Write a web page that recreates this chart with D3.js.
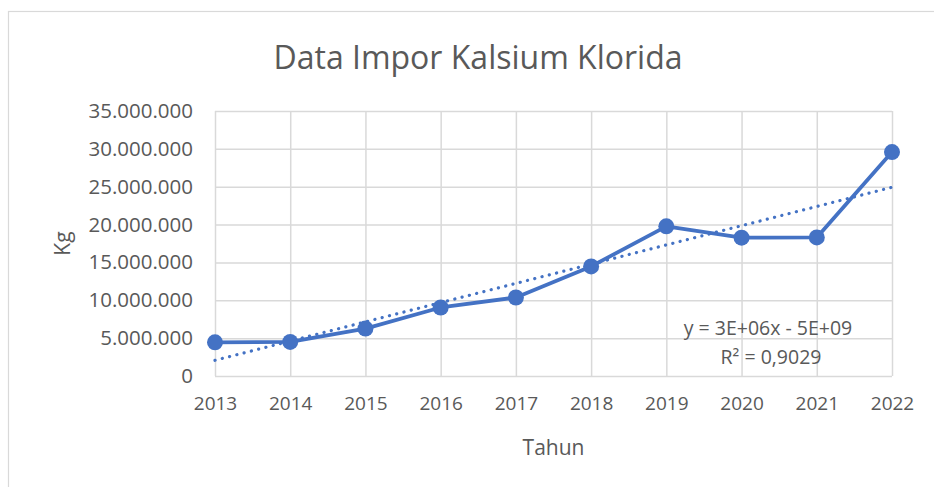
<!DOCTYPE html>
<html>
<head>
<meta charset="utf-8">
<script src="https://cdn.jsdelivr.net/npm/d3@7"></script>
<style>
  body { margin: 0; background: #fff; }
  svg { display: block; }
</style>
</head>
<body>
<div id="chart"></div>
<script>
let years = ["2013", "2014", "2015", "2016", "2017", "2018", "2019", "2020", "2021", "2022"];
let imports = [4450000, 4500000, 6260000, 9050000, 10370000, 14470000, 19770000, 18270000, 18300000, 29570000];
let yTicks = [0, 5000000, 10000000, 15000000, 20000000, 25000000, 30000000, 35000000];
let equationText = "y = 3E+06x - 5E+09";
let r2Text = "R² = 0,9029";

let width = 934;
let height = 487;
let margin = ({ top: 111, bottom: 111, left: 215, right: 42 });
let textColor = "#595959";
let blue = "#4472C4";
let font = "'Open Sans', sans-serif";

let data = years.map((y, i) => ({ year: y, i: i, value: imports[i] }));

let xScale = d3.scalePoint()
    .domain(years)
    .range([margin.left, width - margin.right]);
let yScale = d3.scaleLinear()
    .domain([0, 35000000])
    .range([height - margin.bottom, margin.top]);

let fmt = v => d3.format(",")(v).replace(/,/g, ".");

let svg = d3.select("#chart")
    .append("svg")
    .attr("width", width)
    .attr("height", height)
    .attr("viewBox", [0, 0, width, height]);

// chart frame
svg.append("rect")
    .attr("x", 8.5).attr("y", 11.5)
    .attr("width", width + 10).attr("height", height + 10)
    .attr("fill", "none")
    .attr("stroke", "#d9d9d9")
    .attr("stroke-width", 1.2);

// gridlines
svg.append("g")
    .call(d3.axisLeft(yScale).tickValues(yTicks).tickSize(-(width - margin.left - margin.right)).tickFormat(""))
    .attr("transform", `translate(${margin.left},0)`)
    .call(g => g.select(".domain").remove())
    .call(g => g.selectAll(".tick line").attr("stroke", "#d9d9d9").attr("stroke-width", 1.5));

svg.append("g")
    .call(d3.axisBottom(xScale).tickSize(-(height - margin.top - margin.bottom)).tickFormat(""))
    .attr("transform", `translate(0,${height - margin.bottom})`)
    .call(g => g.select(".domain").remove())
    .call(g => g.selectAll(".tick line").attr("stroke", "#d9d9d9").attr("stroke-width", 1.5));

// y tick labels
svg.append("g")
    .attr("transform", `translate(${margin.left},0)`)
    .call(d3.axisLeft(yScale).tickValues(yTicks).tickSize(0).tickPadding(22).tickFormat(fmt))
    .call(g => g.select(".domain").remove())
    .call(g => g.selectAll("text")
        .attr("fill", textColor)
        .attr("font-family", font)
        .attr("font-size", 20.5));

// x tick labels
svg.append("g")
    .attr("transform", `translate(0,${height - margin.bottom})`)
    .call(d3.axisBottom(xScale).tickSize(0).tickPadding(21))
    .call(g => g.select(".domain").remove())
    .call(g => g.selectAll("text")
        .attr("fill", textColor)
        .attr("font-family", font)
        .attr("font-size", 19));

// title and axis titles
svg.append("text")
    .attr("x", 478).attr("y", 69)
    .attr("text-anchor", "middle")
    .attr("fill", textColor)
    .attr("font-family", font)
    .attr("font-size", 32)
    .text("Data Impor Kalsium Klorida");

svg.append("text")
    .attr("x", (margin.left + width - margin.right) / 2).attr("y", 455)
    .attr("text-anchor", "middle")
    .attr("fill", textColor)
    .attr("font-family", font)
    .attr("font-size", 21)
    .text("Tahun");

svg.append("text")
    .attr("transform", `translate(70,${(margin.top + height - margin.bottom) / 2}) rotate(-90)`)
    .attr("text-anchor", "middle")
    .attr("fill", textColor)
    .attr("font-family", font)
    .attr("font-size", 21)
    .text("Kg");

// linear trendline (least squares on the series)
let n = data.length;
let mx = d3.mean(data, d => d.i);
let my = d3.mean(data, d => d.value);
let slope = d3.sum(data, d => (d.i - mx) * (d.value - my)) / d3.sum(data, d => (d.i - mx) ** 2);
let intercept = my - slope * mx;
let trend = [data[0], data[n - 1]].map(d => ({ year: d.year, value: intercept + slope * d.i }));

let line = d3.line()
    .x(d => xScale(d.year))
    .y(d => yScale(d.value));

svg.append("path")
    .datum(data)
    .attr("fill", "none")
    .attr("stroke", blue)
    .attr("stroke-width", 3.8)
    .attr("stroke-linejoin", "round")
    .attr("d", line);

svg.append("path")
    .datum(trend)
    .attr("fill", "none")
    .attr("stroke", blue)
    .attr("stroke-width", 3.2)
    .attr("stroke-linecap", "round")
    .attr("stroke-dasharray", "0.1,7.4")
    .attr("d", line);

svg.append("g")
    .attr("fill", blue)
    .selectAll("circle")
    .data(data)
    .join("circle")
    .attr("cx", d => xScale(d.year))
    .attr("cy", d => yScale(d.value))
    .attr("r", 8);

// trendline label
let eq = svg.append("text")
    .attr("text-anchor", "middle")
    .attr("fill", textColor)
    .attr("font-family", font)
    .attr("font-size", 19.5);
eq.append("tspan").attr("x", 768).attr("y", 335).text(equationText);
eq.append("tspan").attr("x", 771).attr("y", 364).text(r2Text);
</script>
</body>
</html>
